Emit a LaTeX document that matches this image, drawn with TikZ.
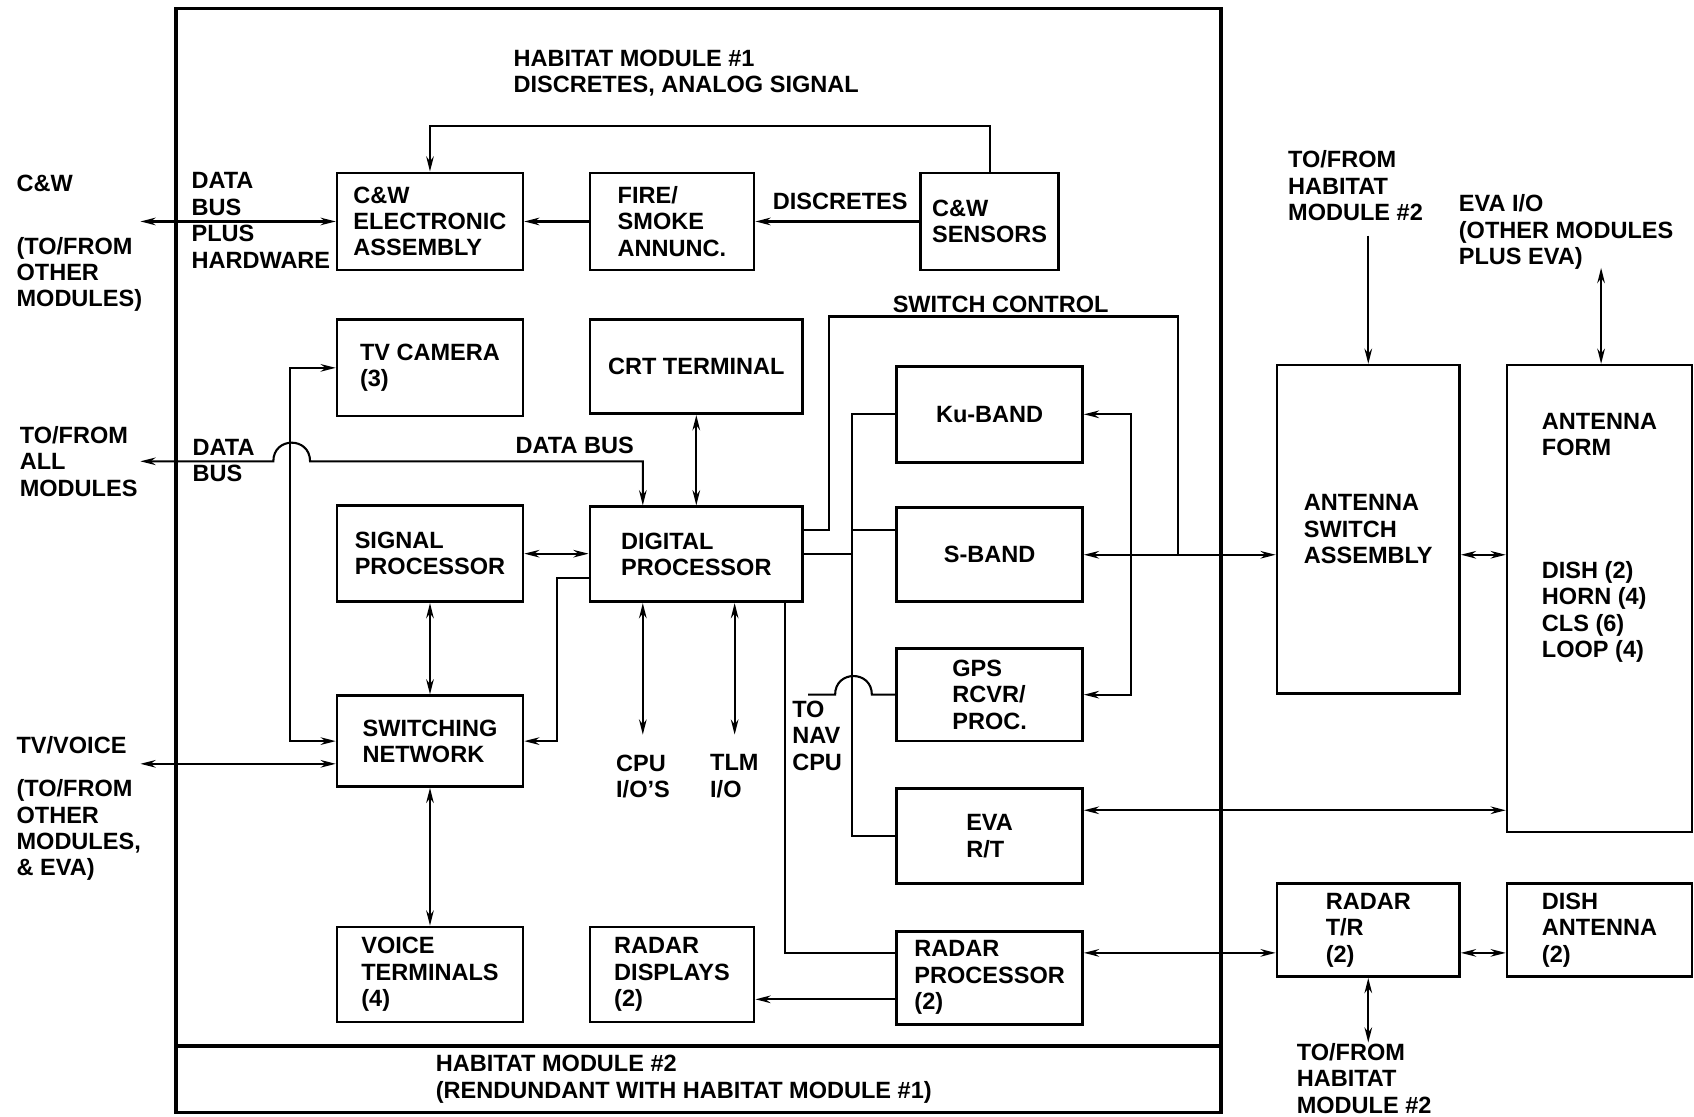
\documentclass[tikz,border=0pt]{standalone}
\usepackage{fontspec}
\setmainfont{Liberation Sans}
\usetikzlibrary{arrows.meta, positioning, calc}
\tikzset{
	blk/.style={
		rectangle, draw=black, line width=1.4pt,
		align=left, inner sep=2pt
	},
	bsize/.style 2 args={
		minimum width=#1*0.02cm, minimum height=#2*0.02cm
	},
	lbl/.style={
		anchor=west, align=left, inner sep=0pt
	},
	lnk/.style={
		line width=1.1pt
	},
	arr/.style={
		lnk, -{Stealth[length=8pt, width=4pt]}
	},
	darr/.style={
		lnk, {Stealth[length=8pt, width=4pt]}-{Stealth[length=8pt, width=4pt]}
	},
	modframe/.style={
		rectangle, draw=black, line width=1.8pt
	}
}

\begin{document}
\begin{tikzpicture}[x=0.02cm, y=-0.02cm,
	font=\fontsize{12.4}{13.9}\selectfont\bfseries]
		\useasboundingbox (0,0) rectangle (1568,1033);
		
		%% ═══════════════════════════════
		%%  HABITAT MODULE FRAME
		%% ═══════════════════════════════
		\node[modframe, bsize={967}{1022}] (hab) at (646.5,519) {};
		\draw[line width=1.8pt] (hab.west |- 0,968) -- (hab.east |- 0,968);
		
		\node[lbl] (title) at (475,67.5) {HABITAT MODULE \#1\\DISCRETES, ANALOG SIGNAL};
		\node[lbl] (hab2)  at (403,999)  {HABITAT MODULE \#2\\(RENDUNDANT WITH HABITAT MODULE \#1)};
		
		%% ═══════════════════════════════
		%%  ROW 1 — C&W chain
		%% ═══════════════════════════════
		\node[blk, bsize={172}{90}] (cwea) at (398,205) {C\&W\\ELECTRONIC\\ASSEMBLY};
		\node[blk, bsize={152}{90}] (fire) at (622,205) {FIRE/\\SMOKE\\ANNUNC.};
		\node[blk, bsize={128}{90}] (sens) at (916,205) {C\&W\\SENSORS};
		
		%% ═══════════════════════════════
		%%  LEFT COLUMN — TV / signal / switching / voice
		%% ═══════════════════════════════
		\node[blk, bsize={172}{89}] (tvcam) at (398,340.5) {TV CAMERA\\(3)};
		\node[blk, bsize={172}{89}] (sigp)  at (398,512.5) {SIGNAL\\PROCESSOR};
		\node[blk, bsize={172}{84}] (swn)   at (398,686)   {SWITCHING\\NETWORK};
		\node[blk, bsize={172}{88}] (voice) at (398,902)   {VOICE\\TERMINALS\\(4)};
		
		%% ═══════════════════════════════
		%%  MIDDLE COLUMN — CRT / digital / radar displays
		%% ═══════════════════════════════
		\node[blk, bsize={197}{87}] (crt)  at (644.5,339.5) {CRT TERMINAL};
		\node[blk, bsize={197}{88}] (digp) at (644.5,513)   {DIGITAL\\PROCESSOR};
		\node[blk, bsize={152}{88}] (radd) at (622,902)     {RADAR\\DISPLAYS\\(2)};
		
		%% ═══════════════════════════════
		%%  RF COLUMN
		%% ═══════════════════════════════
		\node[blk, bsize={172}{89}] (ku)    at (916,383.5) {Ku-BAND};
		\node[blk, bsize={172}{87}] (sband) at (916,513.5) {S-BAND};
		\node[blk, bsize={172}{86}] (gps)   at (916,643)   {GPS\\RCVR/\\PROC.};
		\node[blk, bsize={172}{88}] (eva)   at (916,774)   {EVA\\R/T};
		\node[blk, bsize={172}{86}] (radp)  at (916,905)   {RADAR\\PROCESSOR\\(2)};
		
		%% ═══════════════════════════════
		%%  OUTSIDE THE MODULE — antennas
		%% ═══════════════════════════════
		\node[blk, bsize={169}{304}] (asa)   at (1266.5,490) {ANTENNA\\SWITCH\\ASSEMBLY};
		\node[blk, bsize={171}{432}] (ant)   at (1480.5,554) {ANTENNA\\FORM\\[1.79cm]DISH (2)\\HORN (4)\\CLS (6)\\LOOP (4)\\[1.85cm]\mbox{}};
		\node[blk, bsize={169}{86}]  (radtr) at (1266.5,861) {RADAR\\T/R\\(2)};
		\node[blk, bsize={171}{86}]  (dish)  at (1480.5,861) {DISH\\ANTENNA\\(2)};
		
		%% ═══════════════════════════════
		%%  LABELS
		%% ═══════════════════════════════
		\node[lbl] (cwlbl)   at (15,170)   {C\&W};
		\node[lbl] (cwto)    at (15,254)   {(TO/FROM\\OTHER\\MODULES)};
		\node[lbl] (dbph)    at (177,204)  {DATA\\BUS\\PLUS\\HARDWARE};
		\node[lbl] (disc)    at (715,186)  {DISCRETES};
		\node[lbl] (swctl)   at (826,282)  {SWITCH CONTROL};
		\node[lbl] (allmod)  at (18,427)   {TO/FROM\\ALL\\MODULES};
		\node[lbl] (dbus1)   at (178,426)  {DATA\\BUS};
		\node[lbl] (dbus2)   at (477,412)  {DATA BUS};
		\node[lbl] (tvv)     at (15,690)   {TV/VOICE};
		\node[lbl] (tvvto)   at (15,768.5) {(TO/FROM\\OTHER\\MODULES,\\\& EVA)};
		\node[lbl] (cpulbl)  at (570,718.5) {CPU\\I/O'S};
		\node[lbl] (tlmlbl)  at (657,718.5) {TLM\\I/O};
		\node[lbl] (navlbl)  at (733,681)  {TO\\NAV\\CPU};
		\node[lbl] (h2top)   at (1192,172) {TO/FROM\\HABITAT\\MODULE \#2};
		\node[lbl] (evaiolb) at (1350,215) {EVA I/O\\(OTHER MODULES\\PLUS EVA)};
		\node[lbl] (h2bot)   at (1200,998) {TO/FROM\\HABITAT\\MODULE \#2};
		
		%% free ends
		\coordinate (cwext)  at (130,205);
		\coordinate (busext) at (130,427);
		\coordinate (tvext)  at (130,707);
		\coordinate (dbtap)  at (595,427);
		\coordinate (cpuio)  at (595,680);
		\coordinate (tlmio)  at (680,680);
		\coordinate (navcpu) at (748,643);
		\coordinate (swtop)  at (1090,293);
		\coordinate (h2in)   at (1266.5,218);
		\coordinate (evaio)  at (1482,248);
		\coordinate (h2out)  at (1266.5,965);
		
		%% ═══════════════════════════════
		%%  ARROWS
		%% ═══════════════════════════════
		
		% C&W chain
		\draw[arr]  (sens.north) -- ++(0,-42) -| (cwea.north);
		\draw[arr]  (sens.west) -- (fire.east);
		\draw[arr]  (fire.west) -- (cwea.west -| cwea.east);
		\draw[darr] (cwext) -- (cwea.west);
		
		% TV camera / switching network
		\draw[darr] (tvcam.west) -- ++(-42,0) |- (swn.west);
		\draw[darr] (tvext) -- (tvext -| swn.west);
		
		% data bus with jump
		\draw[darr] (busext) -- (253,427) .. controls (253,404) and (287,404) .. (287,427)
			-- (dbtap) -- (dbtap |- digp.north);
		
		% processors
		\draw[darr] (sigp.east) -- (sigp.east -| digp.west);
		\draw[darr] (sigp.south) -- (swn.north);
		\draw[darr] (swn.south) -- (voice.north);
		\draw[arr]  ($(digp.west)+(0,22)$) -- ++(-29,0) |- (swn.east);
		\draw[darr] (crt.south) -- (crt.south |- digp.north);
		\draw[darr] (cpuio |- digp.south) -- (cpuio);
		\draw[darr] (tlmio |- digp.south) -- (tlmio);
		\draw[lnk]  ($(digp.south east)+(-18,0)$) |- ($(radp.west)+(0,-23)$);
		
		% switch control
		\draw[lnk]  ($(digp.east)+(0,-22)$) -- ++(23,0) |- (swtop) -- (swtop |- sband.east);
		
		% RF bus
		\draw[lnk]  (ku.west) -- ++(-40,0) coordinate (bustop) |- (eva.west);
		\draw[lnk]  (digp.east) -- (digp.east -| bustop);
		\coordinate (sbin) at ($(sband.west)+(0,-23)$);
		\draw[lnk]  (sbin) -- (sbin -| bustop);
		\draw[lnk]  (navcpu) -- (773,643) .. controls (773,620) and (807,620) .. (807,643) -- (gps.west);
		
		% RF to antennas
		\draw[darr] (sband.east) -- (sband.east -| asa.west);
		\coordinate (sbtap) at ($(sband.east)+(44,0)$);
		\draw[arr]  (sbtap) |- (ku.east);
		\draw[arr]  (sbtap) |- (gps.east);
		\coordinate (evout) at ($(eva.east)+(0,-24)$);
		\draw[darr] (evout) -- (evout -| ant.west);
		\coordinate (rpout) at ($(radp.east)+(0,-23)$);
		\draw[darr] (rpout) -- (rpout -| radtr.west);
		\coordinate (rdout) at ($(radp.west)+(0,20)$);
		\draw[arr]  (rdout) -- (rdout -| radd.east);
		\draw[darr] (asa.east |- sband.east) -- (ant.west |- sband.east);
		\coordinate (trout) at ($(radtr.east)+(0,21)$);
		\draw[darr] (trout) -- (trout -| dish.west);
		
		% to / from other modules
		\draw[arr]  (h2in) -- (asa.north);
		\draw[darr] (evaio) -- (evaio |- ant.north);
		\draw[darr] (radtr.south) -- (h2out);
	\end{tikzpicture}
\end{document}
